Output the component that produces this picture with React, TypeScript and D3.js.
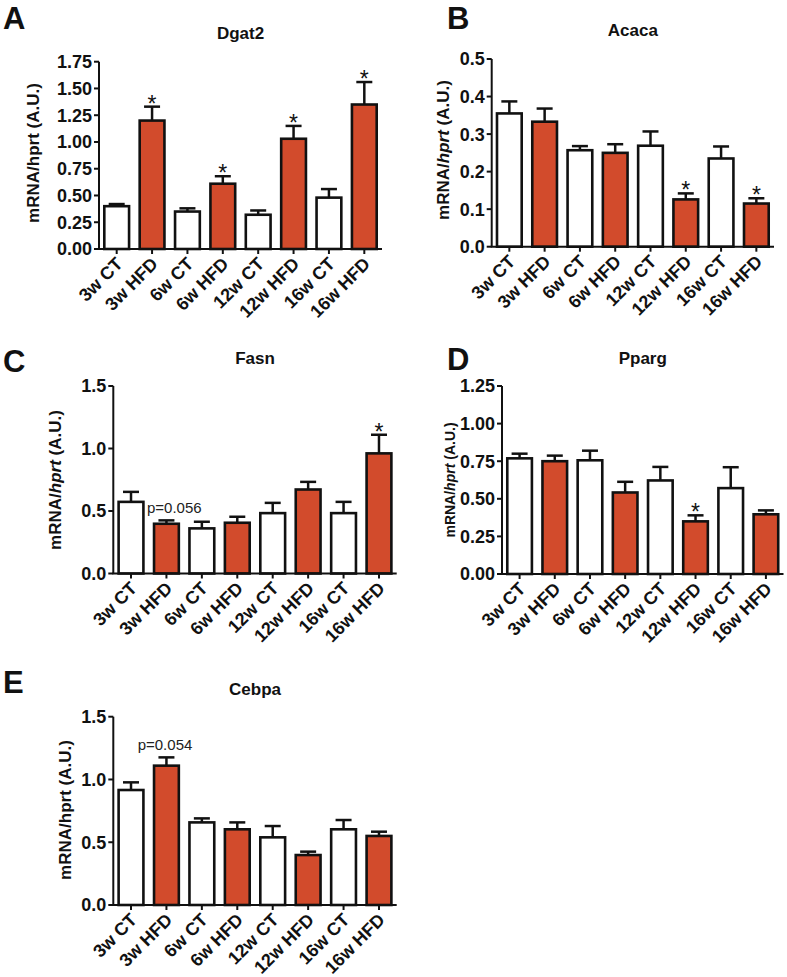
import * as d3 from "d3";

const GROUPS = ["3w CT", "3w HFD", "6w CT", "6w HFD", "12w CT", "12w HFD", "16w CT", "16w HFD"];

const DGAT2_MEAN = [0.40, 1.20, 0.35, 0.61, 0.32, 1.03, 0.48, 1.35];
const DGAT2_SEM = [0.02, 0.13, 0.03, 0.07, 0.04, 0.12, 0.08, 0.21];
const DGAT2_STARS = [1, 3, 5, 7];

const ACACA_MEAN = [0.355, 0.333, 0.257, 0.250, 0.269, 0.126, 0.235, 0.115];
const ACACA_SEM = [0.032, 0.035, 0.011, 0.023, 0.038, 0.016, 0.032, 0.014];
const ACACA_STARS = [5, 7];

const FASN_MEAN = [0.573, 0.398, 0.361, 0.406, 0.483, 0.672, 0.483, 0.961];
const FASN_SEM = [0.08, 0.027, 0.053, 0.048, 0.082, 0.061, 0.09, 0.149];
const FASN_STARS = [7];

const PPARG_MEAN = [0.769, 0.750, 0.756, 0.542, 0.622, 0.350, 0.571, 0.397];
const PPARG_SEM = [0.031, 0.037, 0.064, 0.071, 0.09, 0.04, 0.139, 0.026];
const PPARG_STARS = [5];

const CEBPA_MEAN = [0.916, 1.11, 0.658, 0.603, 0.539, 0.398, 0.603, 0.55];
const CEBPA_SEM = [0.061, 0.066, 0.032, 0.055, 0.09, 0.027, 0.074, 0.034];
const CEBPA_STARS: number[] = [];

const TICKS_175 = [0, 0.25, 0.5, 0.75, 1.0, 1.25, 1.5, 1.75];
const TICKS_05 = [0, 0.1, 0.2, 0.3, 0.4, 0.5];
const TICKS_15 = [0, 0.5, 1.0, 1.5];
const TICKS_125 = [0, 0.25, 0.5, 0.75, 1.0, 1.25];

const HFD_FILL = "#d24b2c";
const INK = "#111";
const FONT = "Liberation Sans, Arial, sans-serif";

type PanelProps = {
  letter: string;
  letterX: number;
  letterY: number;
  title: string;
  titleY: number;
  mean: number[];
  sem: number[];
  stars: number[];
  ticks: number[];
  digits: number;
  x0: number;
  x1: number;
  yTop: number;
  yBottom: number;
  labelX: number;
  labelY: number;
  labelSize: number;
  italic: boolean;
  note?: { text: string; x: number; y: number; anchor: string };
};

function Panel(p: PanelProps) {
  const x = d3
    .scaleBand()
    .domain(GROUPS)
    .range([p.x0, p.x1])
    .paddingInner(0.3)
    .paddingOuter(0.15);
  const y = d3
    .scaleLinear()
    .domain([0, p.ticks[p.ticks.length - 1]])
    .range([p.yBottom, p.yTop]);
  const bw = x.bandwidth();
  const fmt = d3.format(`.${p.digits}f`);

  return (
    <g fontFamily={FONT}>
      <text x={p.letterX} y={p.letterY} fontSize={31} fontWeight="bold" fill={INK}>
        {p.letter}
      </text>
      <text
        x={(p.x0 + p.x1) / 2}
        y={p.titleY}
        textAnchor="middle"
        fontSize={17}
        fontWeight="bold"
        fill={INK}
      >
        {p.title}
      </text>

      {/* y label */}
      <text
        transform={`translate(${p.labelX},${p.labelY}) rotate(-90)`}
        textAnchor="middle"
        dy="0.35em"
        fontSize={p.labelSize}
        fontWeight="bold"
        fill={INK}
      >
        {p.italic ? (
          <>
            mRNA/<tspan fontStyle="italic">hprt</tspan> (A.U.)
          </>
        ) : (
          "mRNA/hprt (A.U.)"
        )}
      </text>

      {/* bars */}
      {GROUPS.map((g, i) => {
        const bx = x(g)!;
        const cx = bx + bw / 2;
        const top = y(p.mean[i]);
        const errTop = y(p.mean[i] + p.sem[i]);
        return (
          <g key={g}>
            <line x1={cx} x2={cx} y1={top} y2={errTop} stroke={INK} strokeWidth={2.5} />
            <line x1={cx - 8} x2={cx + 8} y1={errTop} y2={errTop} stroke={INK} strokeWidth={2.5} />
            <rect
              x={bx}
              y={top}
              width={bw}
              height={p.yBottom - top}
              fill={i % 2 === 1 ? HFD_FILL : "#fff"}
              stroke={INK}
              strokeWidth={2.6}
            />
            {p.stars.includes(i) && (
              <text x={cx} y={errTop + 5} textAnchor="middle" fontSize={23} fill={INK}>
                *
              </text>
            )}
          </g>
        );
      })}

      {/* y axis */}
      <line x1={p.x0} x2={p.x0} y1={p.yTop} y2={p.yBottom} stroke={INK} strokeWidth={2} />
      {p.ticks.map((t) => (
        <g key={t} transform={`translate(0,${y(t)})`}>
          <line x1={p.x0 - 5} x2={p.x0} stroke={INK} strokeWidth={2} />
          <text
            x={p.x0 - 7}
            dy="0.36em"
            textAnchor="end"
            fontSize={18}
            fontWeight="bold"
            fill={INK}
          >
            {fmt(t)}
          </text>
        </g>
      ))}

      {/* x axis */}
      <line x1={p.x0 - 1} x2={p.x1} y1={p.yBottom} y2={p.yBottom} stroke={INK} strokeWidth={2} />
      {GROUPS.map((g) => {
        const cx = x(g)! + bw / 2;
        return (
          <g key={g}>
            <line x1={cx} x2={cx} y1={p.yBottom} y2={p.yBottom + 5} stroke={INK} strokeWidth={2} />
            <text
              transform={`translate(${cx + 7},${p.yBottom + 16}) rotate(-45)`}
              textAnchor="end"
              fontSize={18}
              fontWeight="bold"
              fill={INK}
            >
              {g}
            </text>
          </g>
        );
      })}

      {p.note && (
        <text
          x={p.note.x}
          y={p.note.y}
          dy="0.35em"
          textAnchor={p.note.anchor}
          fontSize={15}
          fill="#222"
        >
          {p.note.text}
        </text>
      )}
    </g>
  );
}

export default function App() {
  return (
    <svg
      width={787}
      height={977}
      viewBox="0 0 787 977"
      style={{ position: "absolute", left: 0, top: 0, background: "#fff" }}
    >
      <rect width={787} height={977} fill="#fff" />
      <Panel
        letter="A" letterX={3} letterY={29}
        title="Dgat2" titleY={39}
        mean={DGAT2_MEAN} sem={DGAT2_SEM} stars={DGAT2_STARS}
        ticks={TICKS_175} digits={2}
        x0={99} x1={382} yTop={61.7} yBottom={249}
        labelX={33} labelY={153} labelSize={17} italic={false}
      />
      <Panel
        letter="B" letterX={447} letterY={29}
        title="Acaca" titleY={36}
        mean={ACACA_MEAN} sem={ACACA_SEM} stars={ACACA_STARS}
        ticks={TICKS_05} digits={1}
        x0={491.7} x1={774} yTop={59} yBottom={246.7}
        labelX={443} labelY={150} labelSize={17} italic={true}
      />
      <Panel
        letter="C" letterX={3} letterY={372}
        title="Fasn" titleY={364}
        mean={FASN_MEAN} sem={FASN_SEM} stars={FASN_STARS}
        ticks={TICKS_15} digits={1}
        x0={113.3} x1={396.7} yTop={386} yBottom={573.5}
        labelX={55} labelY={480} labelSize={17} italic={true}
        note={{ text: "p=0.056", x: 147, y: 508, anchor: "start" }}
      />
      <Panel
        letter="D" letterX={447} letterY={370}
        title="Pparg" titleY={364}
        mean={PPARG_MEAN} sem={PPARG_SEM} stars={PPARG_STARS}
        ticks={TICKS_125} digits={2}
        x0={502} x1={783.5} yTop={386} yBottom={574}
        labelX={450} labelY={480} labelSize={14} italic={true}
      />
      <Panel
        letter="E" letterX={3} letterY={693}
        title="Cebpa" titleY={695}
        mean={CEBPA_MEAN} sem={CEBPA_SEM} stars={CEBPA_STARS}
        ticks={TICKS_15} digits={1}
        x0={113.3} x1={396.7} yTop={716.7} yBottom={905}
        labelX={65} labelY={810} labelSize={17} italic={false}
        note={{ text: "p=0.054", x: 165, y: 745, anchor: "middle" }}
      />
    </svg>
  );
}
